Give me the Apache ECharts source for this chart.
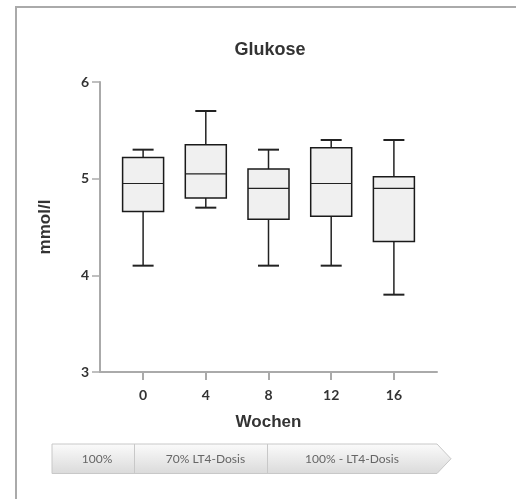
<!DOCTYPE html>
<html>
<head>
<meta charset="utf-8">
<script src="https://cdn.jsdelivr.net/npm/echarts@6/dist/echarts.min.js"></script>
<style>
html,body{margin:0;padding:0;background:#fff;}
#chart{width:516px;height:499px;}
</style>
</head>
<body>
<div id="chart"></div>
<script>
var weeks   = [0, 4, 8, 12, 16];
var mins    = [4.10, 4.70, 4.10, 4.10, 3.80];
var q1s     = [4.66, 4.80, 4.58, 4.61, 4.35];
var medians = [4.95, 5.05, 4.90, 4.95, 4.90];
var q3s     = [5.22, 5.35, 5.10, 5.32, 5.02];
var maxs    = [5.30, 5.70, 5.30, 5.40, 5.40];
var yTicks  = [3, 4, 5, 6];
var phases  = ['100%', '70% LT4-Dosis', '100% - LT4-Dosis'];

var boxData = weeks.map(function (w, i) {
  return [w, mins[i], q1s[i], medians[i], q3s[i], maxs[i]];
});

var chart = echarts.init(document.getElementById('chart'), null, {renderer: 'canvas'});

function renderBox(params, api) {
  var x = api.value(0);
  var pMin = api.coord([x, api.value(1)]);
  var pQ1 = api.coord([x, api.value(2)]);
  var pMed = api.coord([x, api.value(3)]);
  var pQ3 = api.coord([x, api.value(4)]);
  var pMax = api.coord([x, api.value(5)]);
  var cx = pMed[0];
  var bw = 41, cw = 21;
  var lineStyle = {stroke: '#222', lineWidth: 1.5};
  return {
    type: 'group',
    children: [
      {type: 'line', shape: {x1: cx, y1: pMax[1], x2: cx, y2: pQ3[1]}, style: lineStyle},
      {type: 'line', shape: {x1: cx, y1: pQ1[1], x2: cx, y2: pMin[1]}, style: lineStyle},
      {type: 'line', shape: {x1: cx - cw / 2, y1: pMax[1], x2: cx + cw / 2, y2: pMax[1]}, style: {stroke: '#222', lineWidth: 2}},
      {type: 'line', shape: {x1: cx - cw / 2, y1: pMin[1], x2: cx + cw / 2, y2: pMin[1]}, style: {stroke: '#222', lineWidth: 2}},
      {type: 'rect', shape: {x: cx - bw / 2, y: pQ3[1], width: bw, height: pQ1[1] - pQ3[1]},
        style: {fill: '#f0f0f0', stroke: '#1a1a1a', lineWidth: 1.5}},
      {type: 'line', shape: {x1: cx - bw / 2, y1: pMed[1], x2: cx + bw / 2, y2: pMed[1]},
        style: {stroke: '#222', lineWidth: 1.2}}
    ]
  };
}

var barTop = 444, barBot = 473.5, barL = 52, barR = 437, tip = 451;
var div1 = 134.5, div2 = 267.5;
var phaseFont = '12px Lato, "Open Sans", sans-serif';

var option = {
  animation: false,
  backgroundColor: '#fff',
  title: {
    text: 'Glukose',
    left: 265,
    top: 36,
    textAlign: 'center',
    textStyle: {fontFamily: '"Liberation Sans", Arial, sans-serif', fontSize: 18, fontWeight: 'bold', color: '#333'}
  },
  grid: {left: 100, right: 79, top: 82, bottom: 127, containLabel: false},
  xAxis: {
    type: 'value',
    min: -2.75,
    max: 18.75,
    name: 'Wochen',
    nameLocation: 'middle',
    nameGap: 42,
    nameTextStyle: {fontFamily: '"Liberation Sans", Arial, sans-serif', fontSize: 17, fontWeight: 'bold', color: '#333'},
    axisLine: {show: true, onZero: false, lineStyle: {color: '#aaa', width: 2}},
    axisTick: {show: true, length: 8, customValues: weeks, lineStyle: {color: '#aaa', width: 2}},
    axisLabel: {
      customValues: weeks,
      margin: 16,
      fontFamily: 'Lato, "Open Sans", sans-serif', fontSize: 14, fontWeight: 'bold', color: '#333'
    },
    splitLine: {show: false}
  },
  yAxis: {
    type: 'value',
    min: 3,
    max: 6,
    interval: 1,
    name: 'mmol/l',
    nameLocation: 'middle',
    nameGap: 46,
    nameRotate: 90,
    nameTextStyle: {fontFamily: '"Liberation Sans", Arial, sans-serif', fontSize: 17, fontWeight: 'bold', color: '#333'},
    axisLine: {show: true, onZero: false, lineStyle: {color: '#aaa', width: 2}},
    axisTick: {show: true, length: 8, lineStyle: {color: '#aaa', width: 1.5}},
    axisLabel: {
      margin: 11,
      formatter: function (v) { return yTicks.indexOf(v) >= 0 ? String(v) : ''; },
      fontFamily: 'Lato, "Open Sans", sans-serif', fontSize: 14, fontWeight: 'bold', color: '#333'
    },
    splitLine: {show: false}
  },
  series: [{
    type: 'custom',
    renderItem: renderBox,
    encode: {x: 0, y: [1, 2, 3, 4, 5]},
    data: boxData,
    clip: false
  }],
  graphic: [
    {type: 'polyline', shape: {points: [[516, 7], [16, 7], [16, 499]]},
      style: {stroke: '#aaa', lineWidth: 2, fill: null}, silent: true},
    {type: 'polygon',
      shape: {points: [[barL, barTop], [barR, barTop], [tip, (barTop + barBot) / 2], [barR, barBot], [barL, barBot]]},
      style: {
        fill: new echarts.graphic.LinearGradient(0, 0, 0, 1, [
          {offset: 0, color: '#fbfbfb'}, {offset: 1, color: '#dadada'}
        ]),
        stroke: '#c8c8c8', lineWidth: 1
      }, silent: true},
    {type: 'line', shape: {x1: div1, y1: barTop, x2: div1, y2: barBot}, style: {stroke: '#c8c8c8', lineWidth: 1}, silent: true},
    {type: 'line', shape: {x1: div2, y1: barTop, x2: div2, y2: barBot}, style: {stroke: '#c8c8c8', lineWidth: 1}, silent: true},
    {type: 'text', x: 97, y: (barTop + barBot) / 2,
      style: {text: phases[0], font: phaseFont, fill: '#666', align: 'center', verticalAlign: 'middle'}, silent: true},
    {type: 'text', x: 205.5, y: (barTop + barBot) / 2,
      style: {text: phases[1], font: phaseFont, fill: '#666', align: 'center', verticalAlign: 'middle'}, silent: true},
    {type: 'text', x: 352, y: (barTop + barBot) / 2,
      style: {text: phases[2], font: phaseFont, fill: '#666', align: 'center', verticalAlign: 'middle'}, silent: true}
  ]
};
chart.setOption(option);
</script>
</body>
</html>
